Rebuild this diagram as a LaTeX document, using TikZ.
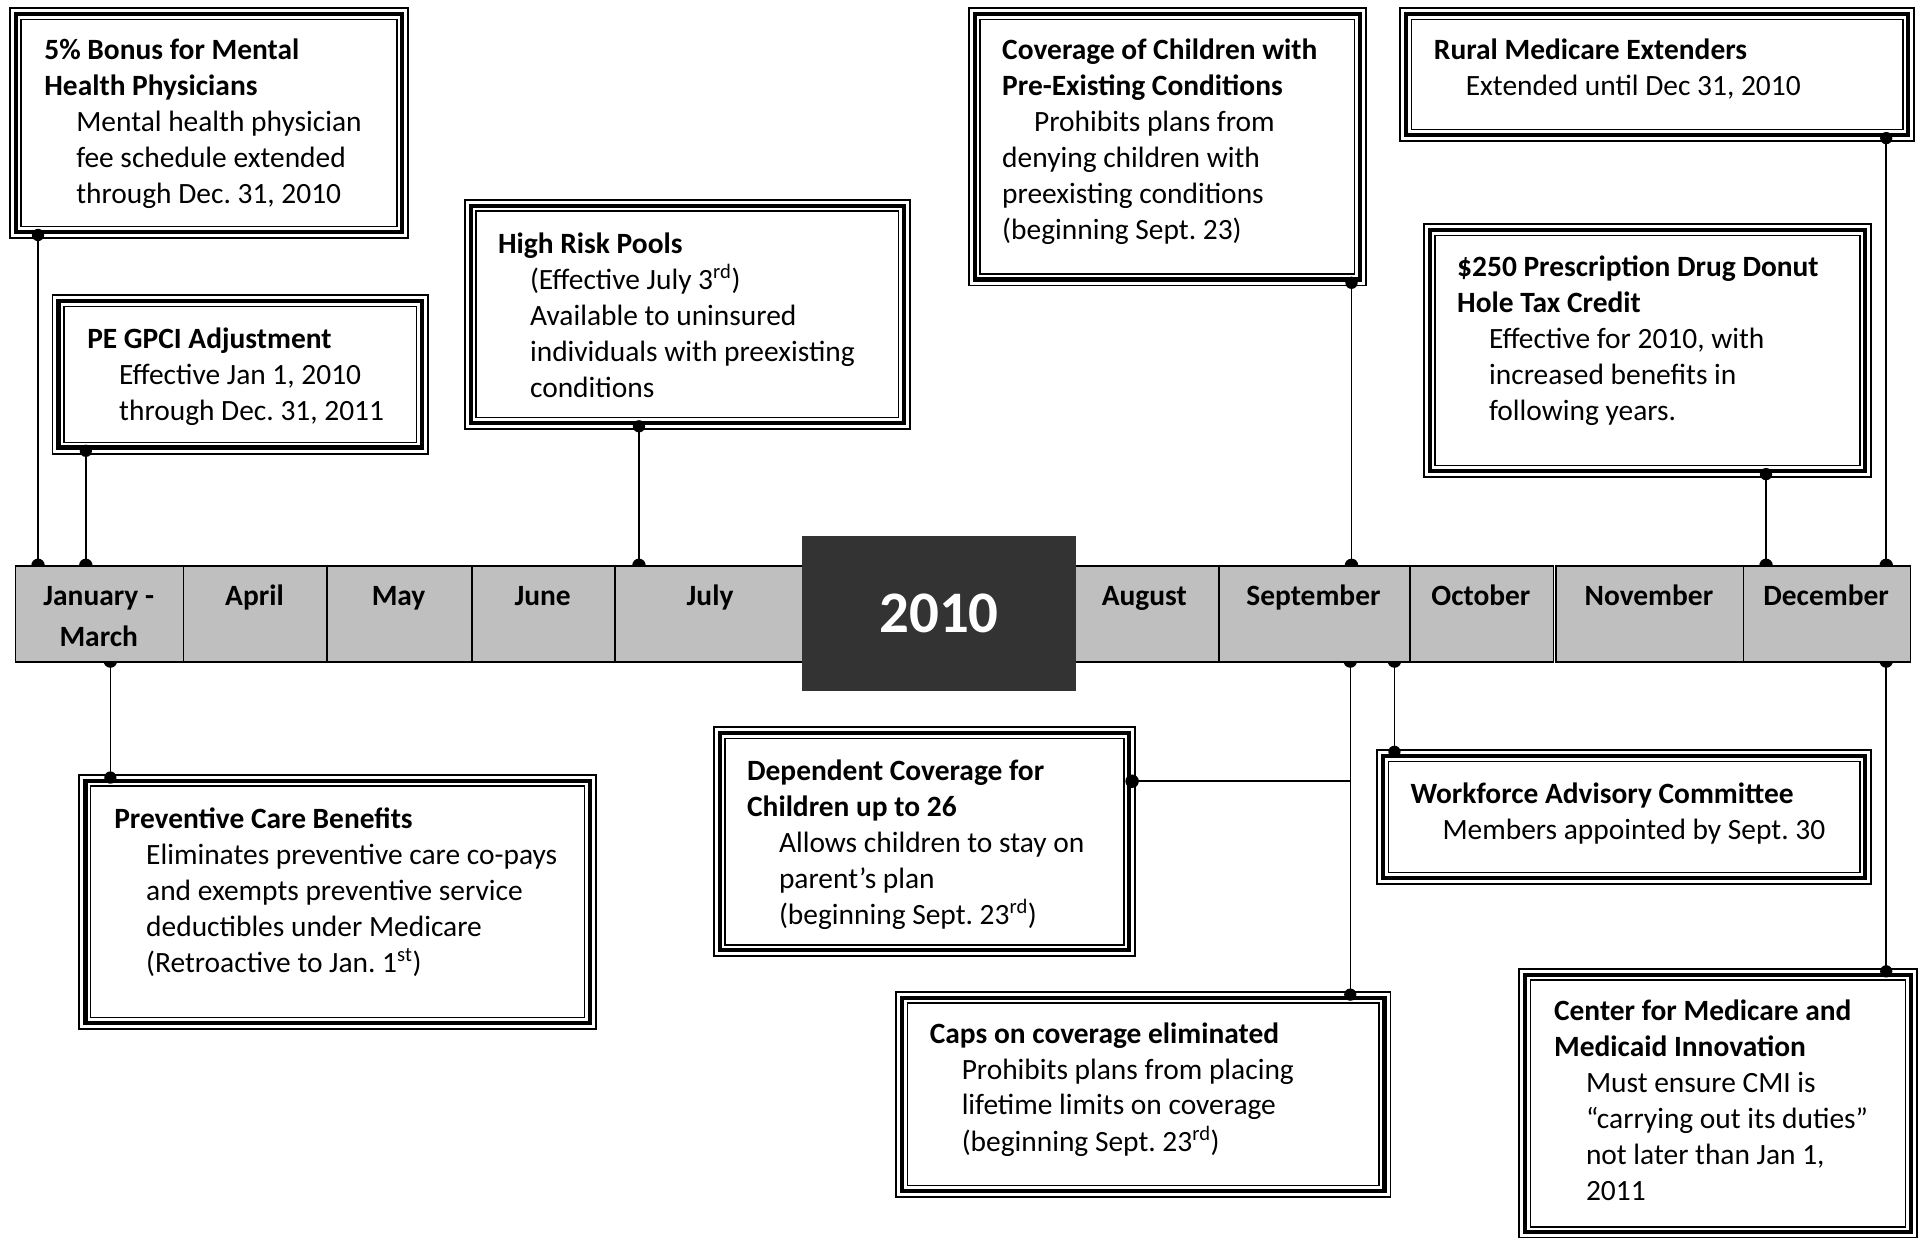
\documentclass[tikz,border=0pt]{standalone}
\usepackage{fontspec}
\setmainfont{Carlito}
\frenchspacing
\usetikzlibrary{backgrounds}
\definecolor{barfill}{RGB}{191,191,191}
\definecolor{yrfill}{RGB}{51,51,51}
\newcommand\bodyind{\hspace*{26pt}}
\newcommand\sups[1]{\textsuperscript{#1}}
\begin{document}
\begin{tikzpicture}[x=1pt,y=-1pt,
  tbox/.style={draw, line width=1.6, fill=white, inner sep=0, anchor=north west,
    path picture={
      \draw[line width=3.3] ([shift={(4.9,4.9)}]path picture bounding box.north west) rectangle ([shift={(-4.9,-4.9)}]path picture bounding box.south east);
      \draw[line width=1.2] ([shift={(9.2,9.2)}]path picture bounding box.north west) rectangle ([shift={(-9.2,-9.2)}]path picture bounding box.south east);
    }},
  txt/.style={inner sep=0, anchor=base west, font=\fontsize{24}{29.3}\selectfont\frenchspacing},
  cell/.style={draw, line width=1.4, fill=barfill, inner sep=0, anchor=north west, minimum height=78},
  mlabel/.style={inner sep=0, anchor=base, font=\fontsize{24}{29.3}\selectfont\bfseries},
  conn/.style={line width=1.2},
  dot/.style={fill=black}]

\useasboundingbox (0,0) rectangle (1568,1009);

% ---------- timeline bar ----------
\node[cell, minimum width=137] (cjan) at (12,461) {};
\node[cell, minimum width=117] (capr) at (149,461) {};
\node[cell, minimum width=118] (cmay) at (266,461) {};
\node[cell, minimum width=117] (cjun) at (384,461) {};
\node[cell, minimum width=156] (cjul) at (501,461) {};
\node[cell, minimum width=118] (caug) at (875,461) {};
\node[cell, minimum width=156] (csep) at (993,461) {};
\node[cell, minimum width=117] (coct) at (1149,461) {};
\node[cell, minimum width=153] (cnov) at (1268,461) {};
\node[cell, minimum width=136] (cdec) at (1421,461) {};

\node[fill=yrfill, minimum width=223, minimum height=126, anchor=north west, inner sep=0,
      text=white, font=\fontsize{48}{58}\selectfont\bfseries] (yr) at (654,437) {2010};

\node[mlabel] (ljan) at (80.5,493.5) {\begin{tabular}[t]{@{}c@{}}January -\\[4.7pt]March\end{tabular}};
\node[mlabel] (lapr) at (207.5,493.5) {April};
\node[mlabel] (lmay) at (325,493.5) {May};
\node[mlabel] (ljun) at (442.5,493.5) {June};
\node[mlabel] (ljul) at (579,493.5) {July};
\node[mlabel] (laug) at (933,493.5) {August};
\node[mlabel] (lsep) at (1071,493.5) {September};
\node[mlabel] (loct) at (1207.5,493.5) {October};
\node[mlabel] (lnov) at (1344.5,493.5) {November};
\node[mlabel] (ldec) at (1489,493.5) {December};

% ---------- boxes ----------
\node[tbox, minimum width=325, minimum height=187] (b1) at (7,6) {};
\node[tbox, minimum width=306, minimum height=129] (b2) at (42,240) {};
\node[tbox, minimum width=363, minimum height=187] (b3) at (378,162) {};
\node[tbox, minimum width=324, minimum height=226] (b4) at (789,6) {};
\node[tbox, minimum width=419, minimum height=108] (b5) at (1141,6) {};
\node[tbox, minimum width=365, minimum height=206] (b6) at (1160,182) {};
\node[tbox, minimum width=421, minimum height=207] (b7) at (64,631) {};
\node[tbox, minimum width=344, minimum height=187] (b8) at (581,592) {};
\node[tbox, minimum width=403, minimum height=167] (b9) at (730,808) {};
\node[tbox, minimum width=403, minimum height=109] (b10) at (1122,611) {};
\node[tbox, minimum width=324, minimum height=220] (b11) at (1238,789) {};

% ---------- texts ----------
\node[txt] (t1) at (36,48.5) {\begin{tabular}[t]{@{}l@{}}
\textbf{5\% Bonus for Mental}\\ \textbf{Health Physicians}\\
\bodyind Mental health physician\\ \bodyind fee schedule extended\\ \bodyind through Dec. 31, 2010\end{tabular}};
\node[txt] (t2) at (71,284.5) {\begin{tabular}[t]{@{}l@{}}
\textbf{PE GPCI Adjustment}\\ \bodyind Effective Jan 1, 2010\\ \bodyind through Dec. 31, 2011\end{tabular}};
\node[txt] (t3) at (406,206.5) {\begin{tabular}[t]{@{}l@{}}
\textbf{High Risk Pools}\\ \bodyind (Effective July 3\sups{rd})\\ \bodyind Available to uninsured\\
\bodyind individuals with preexisting\\ \bodyind conditions\end{tabular}};
\node[txt] (t4) at (817,48.5) {\begin{tabular}[t]{@{}l@{}}
\textbf{Coverage of Children with}\\ \textbf{Pre-Existing Conditions}\\
\bodyind Prohibits plans from\\ denying children with\\ preexisting conditions\\ (beginning Sept. 23)\end{tabular}};
\node[txt] (t5) at (1169,48.5) {\begin{tabular}[t]{@{}l@{}}
\textbf{Rural Medicare Extenders}\\ \bodyind Extended until Dec 31, 2010\end{tabular}};
\node[txt] (t6) at (1188,225.5) {\begin{tabular}[t]{@{}l@{}}
\textbf{\$250 Prescription Drug Donut}\\ \textbf{Hole Tax Credit}\\
\bodyind Effective for 2010, with\\ \bodyind increased benefits in\\ \bodyind following years.\end{tabular}};
\node[txt] (t7) at (93,675.5) {\begin{tabular}[t]{@{}l@{}}
\textbf{Preventive Care Benefits}\\ \bodyind Eliminates preventive care co-pays\\
\bodyind and exempts preventive service\\ \bodyind deductibles under Medicare\\
\bodyind (Retroactive to Jan. 1\sups{st})\end{tabular}};
\node[txt] (t8) at (609,636.5) {\begin{tabular}[t]{@{}l@{}}
\textbf{Dependent Coverage for}\\ \textbf{Children up to 26}\\
\bodyind Allows children to stay on\\ \bodyind parent’s plan\\ \bodyind (beginning Sept. 23\sups{rd})\end{tabular}};
\node[txt] (t9) at (758,850.5) {\begin{tabular}[t]{@{}l@{}}
\textbf{Caps on coverage eliminated}\\ \bodyind Prohibits plans from placing\\
\bodyind lifetime limits on coverage\\ \bodyind (beginning Sept. 23\sups{rd})\end{tabular}};
\node[txt] (t10) at (1150,655.5) {\begin{tabular}[t]{@{}l@{}}
\textbf{Workforce Advisory Committee}\\ \bodyind Members appointed by Sept. 30\end{tabular}};
\node[txt] (t11) at (1267,832.5) {\begin{tabular}[t]{@{}l@{}}
\textbf{Center for Medicare and}\\ \textbf{Medicaid Innovation}\\
\bodyind Must ensure CMI is\\ \bodyind “carrying out its duties”\\ \bodyind not later than Jan 1,\\ \bodyind 2011\end{tabular}};

% ---------- connector anchor points on the bar ----------
\coordinate (k1) at (31,461);
\coordinate (k2) at (70,461);
\coordinate (k3) at (521,461);
\coordinate (k4) at (1102,461);
\coordinate (k5) at (1538,461);
\coordinate (k6) at (1440,461);
\coordinate (k7) at (90,539);
\coordinate (k8) at (1101,539);
\coordinate (k9) at (1137,539);
\coordinate (k10) at (1538,539);
\coordinate (j8) at (1101,637);

\begin{scope}[on background layer]
  \draw[conn] (k1) -- (k1 |- b1.south);
  \draw[conn] (k2) -- (k2 |- b2.south);
  \draw[conn] (k3) -- (k3 |- b3.south);
  \draw[conn] (k4) -- (k4 |- b4.south);
  \draw[conn] (k5) -- (k5 |- b5.south);
  \draw[conn] (k6) -- (k6 |- b6.south);
  \draw[conn] (k7) -- (k7 |- b7.north);
  \draw[conn] (k8) -- (k8 |- b9.north);
  \draw[conn] (j8) -- (j8 -| b8.east);
  \draw[conn] (k9) -- (k9 |- b10.north);
  \draw[conn] (k10) -- (k10 |- b11.north);
  \foreach \k in {k1,k2,k3,k4,k5,k6,k7,k8,k9,k10}
    \fill[dot] (\k) circle[radius=5.5];
\end{scope}

% ---------- dots at box ends ----------
\fill[dot] ([yshift=3]k1 |- b1.south) circle[radius=5];
\fill[dot] ([yshift=3]k2 |- b2.south) circle[radius=5];
\fill[dot] ([yshift=3]k3 |- b3.south) circle[radius=5];
\fill[dot] ([yshift=3]k4 |- b4.south) circle[radius=5];
\fill[dot] ([yshift=3]k5 |- b5.south) circle[radius=5];
\fill[dot] ([yshift=3]k6 |- b6.south) circle[radius=5];
\fill[dot] ([yshift=-3]k7 |- b7.north) circle[radius=5];
\fill[dot] ([yshift=-3]k8 |- b9.north) circle[radius=5];
\fill[dot] ([xshift=-3.5]j8 -| b8.east) circle[radius=5.5];
\fill[dot] ([yshift=-2]k9 |- b10.north) circle[radius=5];
\fill[dot] ([yshift=-3]k10 |- b11.north) circle[radius=5];
\end{tikzpicture}
\end{document}
